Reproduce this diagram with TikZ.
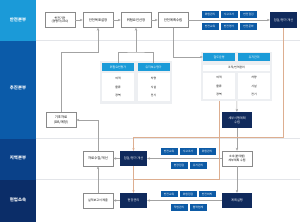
\documentclass[tikz,border=0pt]{standalone}
\usepackage{fontspec}
\setmainfont{Noto Sans CJK KR}
\usetikzlibrary{arrows.meta, positioning, calc}
\definecolor{bandsky}{HTML}{1B9AD8}
\definecolor{bandmid}{HTML}{0B5BA9}
\definecolor{bandreg}{HTML}{0A4189}
\definecolor{bandsite}{HTML}{0B2D68}
\definecolor{navybox}{HTML}{102A5C}
\definecolor{tagblue}{HTML}{0D5BA6}
\definecolor{headsky}{HTML}{1B9BD8}
\definecolor{tablebg}{HTML}{EDEFF2}
\definecolor{linegrey}{HTML}{A3A3A3}
\definecolor{boxgrey}{HTML}{8A8A8A}
\definecolor{rulefaint}{HTML}{E3E5E9}
\definecolor{feedtan}{HTML}{DDAE90}

\begin{document}
\begin{tikzpicture}[x=1mm, y=-1mm,
    box/.style={draw=boxgrey, line width=1.4pt, fill=white, minimum width=30mm,
                minimum height=15mm, align=center, inner sep=0pt,
                font=\fontsize{9.5}{12}\selectfont},
    navy/.style={fill=navybox, text=white, minimum width=27mm, minimum height=15mm,
                 align=center, inner sep=0pt, font=\fontsize{9}{12}\selectfont},
    tag/.style={fill=tagblue, text=white, minimum width=17mm, minimum height=6.5mm,
                inner sep=0pt, font=\fontsize{8}{9}\selectfont},
    head/.style={fill=headsky, text=white, minimum width=32mm, minimum height=8mm,
                 inner sep=0pt, font=\fontsize{8.5}{9}\selectfont},
    cell/.style={fill=white, minimum width=32mm, minimum height=28mm, align=center,
                 inner sep=0pt, font=\fontsize{8}{24}\selectfont},
    band/.style={text=white, font=\fontsize{12.5}{14}\selectfont\bfseries},
    link/.style={linegrey, line width=1.3pt},
    arr/.style={link, -{Stealth[length=3mm, width=2.4mm]}},
    feed/.style={feedtan, line width=1.6pt},
    feedarr/.style={feed, -{Stealth[length=3mm, width=2.4mm]}}]
  \useasboundingbox (0,0) rectangle (300,222);
  % organisation bands
  \fill[bandsky] (0,0) rectangle (36,40.5);
  \fill[bandmid] (0,40.5) rectangle (36,138.5);
  \fill[bandreg] (0,138.5) rectangle (36,179.5);
  \fill[bandsite] (0,179.5) rectangle (36,222);
  \draw[rulefaint, line width=1pt] (36,40.5) -- (300,40.5);
  \draw[rulefaint, line width=1pt] (36,138.5) -- (300,138.5);
  \draw[rulefaint, line width=1pt] (36,179.5) -- (300,179.5);
  \node[band] (hq) at (18,20) {안전본부};
  \node[band] (drive) at (18,88) {추진본부};
  \node[band] (region) at (18,158) {지역본부};
  \node[band] (site) at (18,200) {현업소속};

  % top row
  \node[box, font=\fontsize{8.5}{11}\selectfont] (ceo) at (60,20) {안전기관\\(경영자,CEO)};
  \node[box] (goal) at (98,20) {안전목표설정};
  \node[box] (risk) at (136,20) {위험요인선정};
  \node[box] (plan) at (173,20) {안전계획수립};
  \node[tag] (t1) at (210,14.5) {위험관리};
  \node[tag] (t2) at (229,14.5) {사고조사};
  \node[tag] (t3) at (248.5,14.5) {안전점검};
  \node[tag] (t4) at (210,26.5) {안전교육};
  \node[tag] (t5) at (229,26.5) {안전평가};
  \node[tag] (t6) at (248.5,26.5) {안전문화};
  \node[navy, minimum height=16mm] (evalHQ) at (283.5,20) {점검/평가 개선};

  % evaluation tables
  \node[fill=tablebg, minimum width=72mm, minimum height=43mm] (tabL) at (136,82.5) {};
  \node[head] (hdrA) at (118,67) {위험요인평가};
  \node[head] (hdrB) at (153.5,67) {유지보수평가};
  \node[cell] (cellA) at (118,87) {여객\\물류\\광역};
  \node[cell] (cellB) at (153.5,87) {차량\\시설\\전기};
  \node[fill=tablebg, minimum width=71mm, minimum height=49mm] (tabR) at (236.5,76.5) {};
  \node[head] (hdrC) at (219,57) {철도운영};
  \node[head] (hdrD) at (254,57) {유지관리};
  \node[fill=white, minimum width=67mm, minimum height=6mm, inner sep=0pt,
        font=\fontsize{8}{9}\selectfont] (org) at (236.5,67.5) {조직/인력관리};
  \node[cell, minimum height=26mm] (cellC) at (219,86) {여객\\물류\\광역};
  \node[cell, minimum height=26mm] (cellD) at (254,86) {차량\\시설\\전기};
  \node[navy, minimum width=30mm, minimum height=16mm] (detail) at (237,120) {세부시행계획\\수립};
  \node[box] (base) at (61,120) {기초자료\\(DB/계정)};

  % regional row
  \node[box] (collect) at (98,158.5) {자료수집/개선};
  \node[navy] (evalR) at (133.5,158.5) {점검/평가 개선};
  \node[tag] (m1) at (169,151.5) {안전교육};
  \node[tag] (m2) at (188,151.5) {사고조사};
  \node[tag] (m3) at (207,151.5) {위험관리};
  \node[tag] (m4) at (179,165.5) {현장점검};
  \node[tag] (m5) at (198,165.5) {유지관리};
  \node[box, font=\fontsize{8.5}{11}\selectfont] (unit) at (237,158.5) {소속(분야별)\\세부계획 수립};

  % site row
  \node[box, font=\fontsize{8.5}{11}\selectfont] (report) at (98,200.5) {실적보고서 제출};
  \node[navy] (field) at (133.5,200.5) {현장관리};
  \node[tag] (b1) at (169,194) {안전교육};
  \node[tag] (b2) at (188,194) {위험점검};
  \node[tag] (b3) at (207,194) {안전회의};
  \node[tag] (b4) at (179,207.5) {작업관리};
  \node[tag] (b5) at (198,207.5) {협력업체};
  \node[navy, minimum width=30mm] (exec) at (237,200.5) {계획실행};

  % connectors
  \draw[arr] (ceo) -- (goal);
  \draw[arr] (goal) -- (risk);
  \draw[arr] (risk) -- (plan);
  \draw[arr] (plan) -- (evalHQ);
  \draw[arr] (plan.south) |- (hdrC.west);
  \coordinate (gj) at (98,52);
  \draw[arr] (base.north) |- (gj) -- (goal.south);
  \coordinate (rj) at (136,52);
  \draw[link] (hdrA.north) |- (rj) -| (hdrB.north);
  \draw[arr] (rj) -- (risk.south);
  \draw[arr] (tabR) -- (detail);
  \draw[arr] (detail) -- (unit);
  \draw[arr] (unit) -- (exec);
  \draw[arr] (unit) -- (evalR);
  \draw[arr] (exec) -- (field);
  \draw[arr] (evalR) -- (collect);
  \draw[arr] (field) -- (report);
  \draw[arr] (report) -- (collect);
  \draw[arr] (collect.north) |- (base.east);

  % feedback
  \coordinate (f1) at (133.5,137);
  \coordinate (f2) at (133.5,179);
  \draw[feedarr] (evalHQ.south) |- (f1) -- (evalR.north);
  \draw[feed] (tabR.south -| cellC) |- (f2);
  \draw[feedarr] (evalR) -- (field);
\end{tikzpicture}
\end{document}
